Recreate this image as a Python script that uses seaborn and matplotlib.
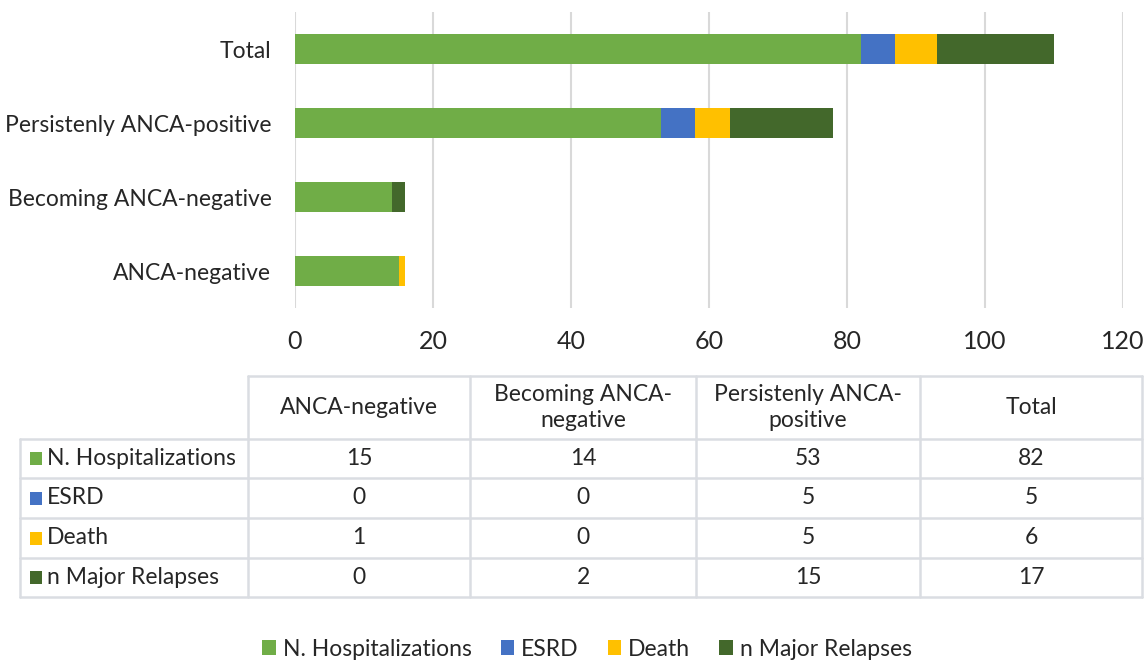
import matplotlib
matplotlib.use("Agg")
import matplotlib.pyplot as plt
from matplotlib.patches import Patch, Rectangle
import numpy as np
import pandas as pd
import seaborn as sns

# ---- data ----
groups = ["ANCA-negative", "Becoming ANCA-negative", "Persistenly ANCA-positive", "Total"]
table_headers = ["ANCA-negative", "Becoming ANCA-\nnegative", "Persistenly ANCA-\npositive", "Total"]
series = ["N. Hospitalizations", "ESRD", "Death", "n Major Relapses"]
hospitalizations = [15, 14, 53, 82]
esrd = [0, 0, 5, 5]
death = [1, 0, 5, 6]
major_relapses = [0, 2, 15, 17]
x_ticks = [0, 20, 40, 60, 80, 100, 120]

colors = ["#70AD47", "#4472C4", "#FFC000", "#43682B"]
text_color = "#262626"
grid_color = "#D9D9D9"

sns.set_theme(style="white")
plt.rcParams["font.family"] = ["Lato", "DejaVu Sans"]

values = [hospitalizations, esrd, death, major_relapses]
df = pd.DataFrame({"group": groups})
for name, vals in zip(series, values):
    df[name] = vals
cum = df[series].cumsum(axis=1)
order = groups[::-1]  # Total on top

W, H = 1146, 664
fig = plt.figure(figsize=(W / 100, H / 100), dpi=100)
ax = fig.add_axes([295 / W, 1 - 308 / H, (1123 - 295) / W, (308 - 12) / H])

# draw cumulative stacks, longest first so shorter ones overlay
for name, col in reversed(list(zip(series, colors))):
    d = pd.DataFrame({"group": df["group"], "value": cum[name]})
    sns.barplot(data=d, x="value", y="group", order=order, color=col,
                width=0.41, ax=ax, saturation=1, edgecolor="none", linewidth=0)

ax.set_xlim(0, 120)
ax.set_xticks(x_ticks)
ax.set_xticklabels([str(t) for t in x_ticks], fontsize=18, color=text_color)
ax.tick_params(axis="x", length=0, pad=16)
ax.tick_params(axis="y", length=0, pad=17, labelsize=16.5, labelcolor=text_color)
ax.set_xlabel("")
ax.set_ylabel("")
ax.xaxis.grid(True, color=grid_color, linewidth=1.5)
ax.set_axisbelow(True)
for s in ax.spines.values():
    s.set_visible(False)

# ---- data table ----
tax = fig.add_axes([0, 0, 1, 1])
tax.set_xlim(0, W)
tax.set_ylim(H, 0)
tax.axis("off")
col_edges = [20, 248, 470, 696, 920, 1142]
row_edges = [376, 439, 478, 518, 558, 597]
lc = "#DADDE2"
lw = 1.8
tax.plot([col_edges[1], col_edges[-1]], [row_edges[0], row_edges[0]], color=lc, lw=lw)
for y in row_edges[1:]:
    tax.plot([col_edges[0], col_edges[-1]], [y, y], color=lc, lw=lw)
tax.plot([col_edges[0], col_edges[0]], [row_edges[1], row_edges[-1]], color=lc, lw=lw)
for x in col_edges[1:]:
    tax.plot([x, x], [row_edges[0], row_edges[-1]], color=lc, lw=lw)

fs_tab = 16.5
for j, h in enumerate(table_headers):
    xc = (col_edges[j + 1] + col_edges[j + 2]) / 2
    yc = (row_edges[0] + row_edges[1]) / 2
    tax.text(xc, yc, h, ha="center", va="center", fontsize=fs_tab,
             color=text_color, linespacing=1.25)
for i, (name, vals, col) in enumerate(zip(series, values, colors)):
    yc = (row_edges[i + 1] + row_edges[i + 2]) / 2
    tax.add_patch(Rectangle((30, yc - 6.5), 12, 13, color=col, lw=0))
    tax.text(47, yc, name, ha="left", va="center", fontsize=fs_tab, color=text_color)
    for j, v in enumerate(vals):
        xc = (col_edges[j + 1] + col_edges[j + 2]) / 2
        tax.text(xc, yc, str(v), ha="center", va="center", fontsize=fs_tab, color=text_color)

# ---- legend ----
handles = [Patch(facecolor=c, edgecolor="none", label=n) for n, c in zip(series, colors)]
fig.legend(handles=handles, loc="center", bbox_to_anchor=(587 / W, 1 - 649 / H), ncol=4,
           frameon=False, fontsize=16.5, handlelength=0.6, handleheight=0.6,
           handletextpad=0.3, columnspacing=1.25, labelcolor=text_color)

fig.savefig("out.png", dpi=100, facecolor="white")
